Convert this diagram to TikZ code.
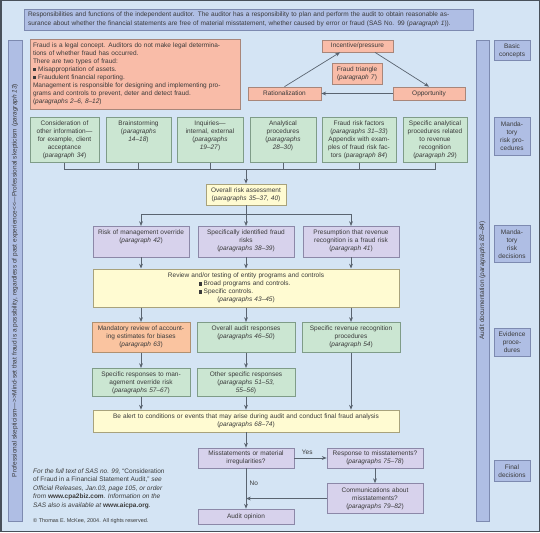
\documentclass[tikz,border=0pt]{standalone}
\usepackage{fontspec}
\setmainfont{Liberation Sans}
\usetikzlibrary{arrows.meta, positioning, calc}

\definecolor{bgblue}{HTML}{D4E4F4}
\definecolor{barblue}{HTML}{AFBEE4}
\definecolor{barline}{HTML}{7D8AB0}
\definecolor{salmon}{HTML}{F9BCA8}
\definecolor{salmonline}{HTML}{A8867A}
\definecolor{mint}{HTML}{CBE6D2}
\definecolor{mintline}{HTML}{7F9C88}
\definecolor{cream}{HTML}{FFFBD2}
\definecolor{creamline}{HTML}{A8A27C}
\definecolor{lilac}{HTML}{D7D2EC}
\definecolor{lilacline}{HTML}{8C88A8}
\definecolor{peach}{HTML}{FAC4A0}
\definecolor{peachline}{HTML}{B09070}
\definecolor{wire}{HTML}{5A6470}
\definecolor{ink}{HTML}{3A3A3A}

\newcommand{\sqb}{\rule[0.2pt]{3.2pt}{3.2pt}\hspace{2pt}}

\begin{document}
\begin{tikzpicture}[
      x=1pt, y=-1pt,
      font=\fontsize{6.5}{8}\selectfont, text=ink,
      box/.style={rectangle, draw, line width=0.7pt, text width=#1, align=center, inner sep=0pt},
      toprow/.style={text height=8pt, text depth=#1},
      concept/.style={box=#1, fill=salmon, draw=salmonline},
      proc/.style={box=#1, fill=mint, draw=mintline},
      assess/.style={box=#1, fill=cream, draw=creamline},
      decision/.style={box=#1, fill=lilac, draw=lilacline},
      estimate/.style={box=#1, fill=peach, draw=peachline},
      sidebar/.style={rectangle, draw=barline, fill=barblue, line width=0.7pt, inner sep=0pt},
      stage/.style={sidebar, text width=36pt, align=center, anchor=north},
      arrow/.style={-{Stealth[length=4.8pt, width=3.8pt]}, draw=wire, line width=0.7pt},
      wireline/.style={draw=wire, line width=0.7pt}
    ]
    \useasboundingbox (0,0) rectangle (540,532);
    \fill[bgblue] (0,0) rectangle (540,532);
    \draw[wire!80!black, line width=1.5pt] (0.75,0.75) rectangle (539.25,531.25);

    % frame: banner and side bars
    \node[sidebar, text width=441pt, align=left, inner xsep=4pt, minimum height=21pt,
          font=\fontsize{6.5}{9}\selectfont] (banner) at (248.5,19.5)
      {Responsibilities and functions of the independent auditor. The auditor has a responsibility to plan and perform the audit to obtain reasonable as-\\surance about whether the financial statements are free of material misstatement, whether caused by error or fraud (SAS No. 99 (\textit{paragraph 1})).};
    \node[sidebar, rotate=90, minimum width=481pt, minimum height=14pt] (skept) at (15,280.5)
      {Professional skepticism—{>}{>}Mind-set that fraud is a possibility, regardless of past experience{<}{<}—Professional skepticism (\textit{paragraph 13})};
    \node[sidebar, rotate=90, minimum width=481pt, minimum height=13pt] (docu) at (482.5,280.5)
      {Audit documentation (\textit{paragraphs 83–84})};

    % stages
    \node[stage, minimum height=20pt] (basic) at (512,40) {Basic\\concepts};
    \node[stage, minimum height=38pt] (mrp) at (512,117) {Manda-\\tory\\risk pro-\\cedures};
    \node[stage, minimum height=37pt] (mrd) at (512,225) {Manda-\\tory\\risk\\decisions};
    \node[stage, minimum height=28pt] (evid) at (512,328) {Evidence\\proce-\\dures};
    \node[stage, minimum height=21pt] (fdec) at (512,460) {Final\\decisions};

    % basic concepts
    \node[concept=204pt, align=left, inner xsep=3pt, toprow=62pt, anchor=north] (fraud) at (135,39)
      {Fraud is a legal concept. Auditors do not make legal determina-\\tions of whether fraud has occurred.\\There are two types of fraud:\\\sqb Misappropriation of assets.\\\sqb Fraudulent financial reporting.\\Management is responsible for designing and implementing pro-\\grams and controls to prevent, deter and detect fraud.\\(\textit{paragraphs 2–6, 8–12})};
    \node[concept=71pt, minimum height=12pt] (inc) at (357.5,46) {Incentive/pressure};
    \node[concept=50pt, minimum height=21pt] (tri) at (357,73.5) {Fraud triangle\\(\textit{paragraph 7})};
    \node[concept=72pt, minimum height=13pt] (opp) at (429,93.5) {Opportunity};
    \node[concept=73pt, minimum height=13pt] (rat) at (284.5,93.5) {Rationalization};

    \draw[arrow] (rat.north) -- (inc.200);
    \draw[arrow] (inc.-20) -- (opp.north);
    \draw[arrow] (opp.west) -- (rat.east);

    % risk procedures
    \node[proc=69pt, toprow=37pt, anchor=north] (other) at (64.5,117)
      {Consideration of\\other information—\\for example, client\\acceptance\\(\textit{paragraph 34})};
    \node[proc=65pt, toprow=37pt, anchor=north] (brain) at (138.5,117)
      {Brainstorming\\(\textit{paragraphs}\\\textit{14–18})};
    \node[proc=66pt, toprow=37pt, anchor=north] (inq) at (210,117)
      {Inquiries—\\internal, external\\(\textit{paragraphs}\\\textit{19–27})};
    \node[proc=66pt, toprow=37pt, anchor=north] (anal) at (283,117)
      {Analytical\\procedures\\(\textit{paragraphs}\\\textit{28–30})};
    \node[proc=74pt, toprow=37pt, anchor=north] (frf) at (359,117)
      {Fraud risk factors\\(\textit{paragraphs 31–33})\\Appendix with exam-\\ples of fraud risk fac-\\tors (\textit{paragraph 84})};
    \node[proc=64pt, toprow=37pt, anchor=north] (sar) at (435,117)
      {Specific analytical\\procedures related\\to revenue\\recognition\\(\textit{paragraph 29})};

    \node[assess=80pt, minimum height=21pt] (ora) at (246,194.5)
      {Overall risk assessment\\(\textit{paragraphs 35–37, 40})};

    \coordinate (gbus) at ($(other.south)+(0,7)$);
    \draw[wireline] (other.south) |- (gbus -| sar.south) -- (sar.south);
    \foreach \n in {brain, inq, anal, frf}
      \draw[wireline] (\n.south) -- (gbus -| \n.south);
    \draw[arrow] (gbus -| ora.north) -- (ora.north);

    % risk decisions
    \node[decision=96pt, toprow=22.5pt, anchor=north] (rmo) at (141,226)
      {Risk of management override\\(\textit{paragraph 42})};
    \node[decision=96pt, toprow=22.5pt, anchor=north] (sifr) at (246,226)
      {Specifically identified fraud\\risks\\(\textit{paragraphs 38–39})};
    \node[decision=96pt, toprow=22.5pt, anchor=north] (prr) at (351,226)
      {Presumption that revenue\\recognition is a fraud risk\\(\textit{paragraph 41})};

    \coordinate (obus) at ($(ora.south)+(0,9)$);
    \draw[arrow] (ora.south) -- (sifr.north);
    \draw[wireline] (obus -| rmo.north) -- (obus -| prr.north);
    \draw[arrow] (obus -| rmo.north) -- (rmo.north);
    \draw[arrow] (obus -| prr.north) -- (prr.north);

    \node[assess=306pt, text height=9pt, text depth=29.5pt, anchor=north] (review) at (246,268.5)
      {Review and/or testing of entity programs and controls\\
       \makebox[95pt][l]{\sqb Broad programs and controls.}\\
       \makebox[95pt][l]{\sqb Specific controls.}\\
       (\textit{paragraphs 43–45})};
    \foreach \n in {rmo, sifr, prr}
      \draw[arrow] (\n.south) -- (review.north -| \n.south);

    % evidence procedures
    \node[estimate=98pt, toprow=22pt, anchor=north] (mre) at (141,322)
      {Mandatory review of account-\\ing estimates for biases\\(\textit{paragraph 63})};
    \node[proc=98pt, toprow=22pt, anchor=north] (oar) at (246,322)
      {Overall audit responses\\(\textit{paragraphs 46–50})};
    \node[proc=98pt, toprow=22pt, anchor=north] (srrp) at (351,322)
      {Specific revenue recognition\\procedures\\(\textit{paragraph 54})};
    \foreach \n in {mre, oar, srrp}
      \draw[arrow] (review.south -| \n.north) -- (\n.north);

    \node[proc=98pt, toprow=20pt, anchor=north] (srmo) at (141,368)
      {Specific responses to man-\\agement override risk\\(\textit{paragraphs 57–67})};
    \node[proc=98pt, toprow=20pt, anchor=north] (osr) at (246,368)
      {Other specific responses\\(\textit{paragraphs 51–53,}\\\textit{55–56})};
    \draw[arrow] (mre.south) -- (srmo.north);
    \draw[arrow] (oar.south) -- (osr.north);

    % final decisions
    \node[assess=306pt, minimum height=22pt] (alert) at (246,421)
      {Be alert to conditions or events that may arise during audit and conduct final fraud analysis\\(\textit{paragraphs 68–74})};
    \foreach \n in {srmo, osr, srrp}
      \draw[arrow] (\n.south) -- (alert.north -| \n.south);

    \node[decision=96pt, minimum height=20pt] (mis) at (246,458)
      {Misstatements or material\\irregularities?};
    \node[decision=96pt, minimum height=20pt] (resp) at (375,458)
      {Response to misstatements?\\(\textit{paragraphs 75–78})};
    \node[decision=96pt, minimum height=30pt] (comm) at (375,498.5)
      {Communications about\\misstatements?\\(\textit{paragraphs 79–82})};
    \node[decision=96pt, minimum height=15pt] (opin) at (246,516.5) {Audit opinion};

    \draw[arrow] (alert.south) -- (mis.north);
    \draw[arrow] (mis.east) -- node[above, pos=0.4] (yes) {Yes} (resp.west);
    \draw[arrow] (mis.south) -- node[right, pos=0.38] (no) {No} (opin.north);
    \draw[arrow] (resp.south) -- (comm.north);
    \draw[arrow] (comm.west) -- (comm.west -| opin.north);

    % source note
    \node[anchor=north west, align=left, inner sep=0pt, font=\fontsize{6.5}{8.4}\selectfont\itshape] (note) at (33,468.5)
      {For the full text of SAS no. 99, \textup{“Consideration}\\\textup{of Fraud in a Financial Statement Audit,”} see\\Official Releases, Jan.03, page 105, or order\\from \textup{\textbf{www.cpa2biz.com}}. Information on the\\SAS also is available at \textup{\textbf{www.aicpa.org}}.};
    \node[anchor=west, inner sep=0pt, font=\fontsize{5.5}{6}\selectfont] (copy) at (33,521.5)
      {© Thomas E. McKee, 2004. All rights reserved.};
  \end{tikzpicture}
\end{document}
